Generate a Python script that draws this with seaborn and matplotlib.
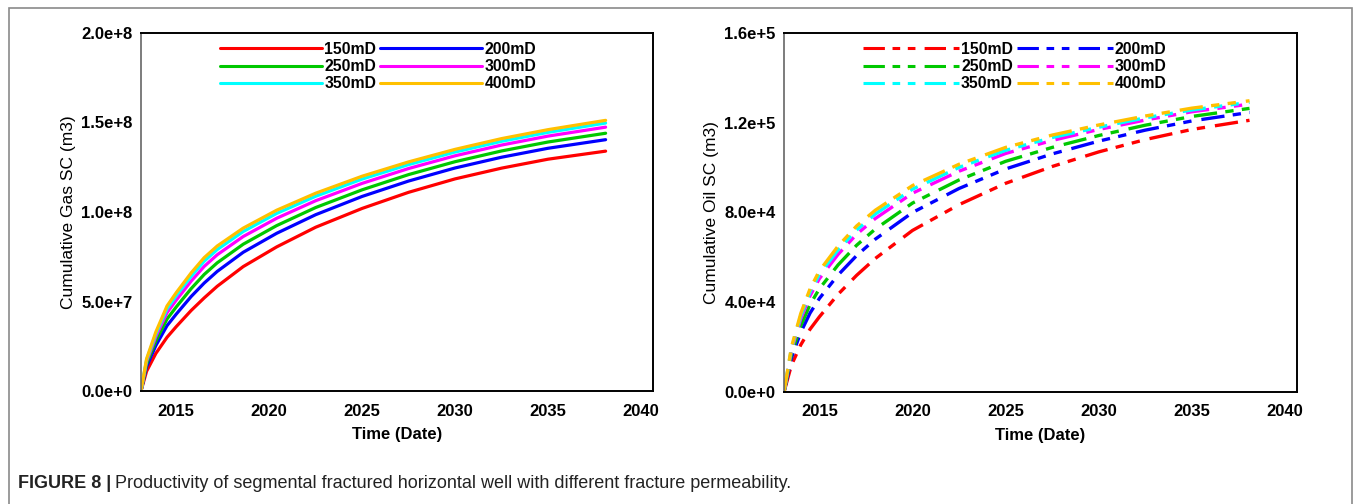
import matplotlib
matplotlib.use("Agg")
import pandas as pd
import matplotlib.pyplot as plt
from matplotlib.patches import Rectangle
from matplotlib.ticker import FuncFormatter, MultipleLocator
import seaborn as sns

# Fracture permeability cases
perm_labels = ["150mD", "200mD", "250mD", "300mD", "350mD", "400mD"]
perm_colors = ["#ff0000", "#0000ff", "#00c800", "#ff00ff", "#00ffff", "#ffc000"]

# Cumulative gas (units of 1e7 m3)
gas_years = [2013.1, 2013.4, 2013.9, 2014.5, 2015.0, 2015.8, 2016.5, 2017.2, 2018.6,
             2020.4, 2022.5, 2025.0, 2027.5, 2030.0, 2032.5, 2035.0, 2038.1]
gas_150 = [0, 1.10, 2.10, 3.00, 3.60, 4.50, 5.20, 5.85, 6.95, 8.05, 9.15, 10.20, 11.10, 11.85, 12.45, 12.95, 13.40]
gas_200 = [0, 1.36, 2.54, 3.65, 4.30, 5.28, 6.03, 6.68, 7.75, 8.81, 9.85, 10.87, 11.73, 12.46, 13.06, 13.56, 14.04]
gas_250 = [0, 1.51, 2.80, 4.02, 4.70, 5.72, 6.51, 7.16, 8.20, 9.24, 10.25, 11.24, 12.09, 12.81, 13.41, 13.91, 14.40]
gas_300 = [0, 1.65, 3.04, 4.37, 5.08, 6.14, 6.96, 7.61, 8.63, 9.65, 10.63, 11.60, 12.43, 13.14, 13.74, 14.24, 14.74]
gas_350 = [0, 1.74, 3.19, 4.59, 5.33, 6.41, 7.25, 7.90, 8.91, 9.92, 10.88, 11.84, 12.65, 13.35, 13.95, 14.45, 14.97]
gas_400 = [0, 1.80, 3.30, 4.75, 5.50, 6.60, 7.45, 8.10, 9.10, 10.10, 11.05, 12.00, 12.80, 13.50, 14.10, 14.60, 15.12]

# Cumulative oil (units of 1e4 m3)
oil_years = [2013.1, 2013.5, 2014.0, 2014.5, 2015.0, 2016.0, 2017.0, 2018.0,
             2020.0, 2022.5, 2025.0, 2027.5, 2030.0, 2032.5, 2035.0, 2038.1]
oil_150 = [0, 1.20, 2.10, 2.80, 3.35, 4.35, 5.20, 5.95, 7.20, 8.35, 9.30, 10.05, 10.70, 11.25, 11.70, 12.11]
oil_200 = [0, 1.52, 2.66, 3.52, 4.17, 5.21, 6.08, 6.81, 8.00, 9.07, 9.94, 10.61, 11.18, 11.67, 12.08, 12.46]
oil_250 = [0, 1.69, 2.95, 3.90, 4.60, 5.66, 6.54, 7.26, 8.42, 9.45, 10.28, 10.90, 11.43, 11.89, 12.28, 12.64]
oil_300 = [0, 1.86, 3.26, 4.29, 5.05, 6.13, 7.03, 7.73, 8.86, 9.84, 10.63, 11.21, 11.70, 12.12, 12.49, 12.83]
oil_350 = [0, 1.94, 3.39, 4.46, 5.24, 6.33, 7.22, 7.93, 9.04, 10.01, 10.77, 11.34, 11.80, 12.22, 12.57, 12.91]
oil_400 = [0, 2.00, 3.50, 4.60, 5.40, 6.50, 7.40, 8.10, 9.20, 10.15, 10.90, 11.45, 11.90, 12.30, 12.65, 12.98]

x_ticks = [2015, 2020, 2025, 2030, 2035, 2040]
caption_bold = "FIGURE 8 |"
caption_text = "Productivity of segmental fractured horizontal well with different fracture permeability."


def to_long(years, series, unit):
    rows = []
    for label, vals in zip(perm_labels, series):
        for t, v in zip(years, vals):
            rows.append({"Time": t, "Value": v * unit, "Perm": label})
    return pd.DataFrame(rows)


def sci_fmt(v, pos):
    s = f"{v:.1e}"
    return s.replace("e+0", "e+").replace("e-0", "e-")


def style_axes(ax, ymax, ystep, ylabel):
    ax.set_xlim(2013.1, 2040.65)
    ax.set_ylim(0, ymax)
    ax.set_xticks(x_ticks)
    ax.yaxis.set_major_locator(MultipleLocator(ystep))
    ax.yaxis.set_major_formatter(FuncFormatter(sci_fmt))
    ax.set_xlabel("Time (Date)", fontsize=12, fontweight="bold", labelpad=6)
    ax.set_ylabel(ylabel, fontsize=12.5, labelpad=4)
    for side in ["top", "right", "bottom"]:
        ax.spines[side].set_visible(True)
        ax.spines[side].set_color("black")
        ax.spines[side].set_linewidth(1.4)
    ax.spines["left"].set_color("#666666")
    ax.spines["left"].set_linewidth(1.2)
    ax.tick_params(axis="both", direction="out", length=4, width=1, color="#555555",
                   labelsize=12)
    ax.tick_params(axis="x", pad=5)
    ax.tick_params(axis="y", pad=2)
    for lab in ax.get_xticklabels() + ax.get_yticklabels():
        lab.set_fontweight("bold")


def fix_legend(ax, x0, hlen):
    leg = ax.get_legend()
    handles = list(leg.legend_handles)
    labels = [t.get_text() for t in leg.get_texts()]
    order = [0, 2, 4, 1, 3, 5]  # row-wise reading: 150/200, 250/300, 350/400
    handles = [handles[i] for i in order]
    labels = [labels[i] for i in order]
    for h in handles:
        h.set_linewidth(2.2)
    leg.remove()
    ax.legend(handles, labels, ncol=2, loc="upper left", bbox_to_anchor=(x0, 0.975),
              frameon=False, handlelength=hlen, handletextpad=0.15, columnspacing=0.25,
              labelspacing=0.14, borderpad=0, borderaxespad=0,
              prop={"weight": "bold", "size": 11.3})


sns.set_theme(style="white")
plt.rcParams["font.family"] = ["Liberation Sans", "DejaVu Sans"]
plt.rcParams["text.color"] = "black"
plt.rcParams["axes.labelcolor"] = "black"
plt.rcParams["xtick.color"] = "black"
plt.rcParams["ytick.color"] = "black"

gas_df = to_long(gas_years, [gas_150, gas_200, gas_250, gas_300, gas_350, gas_400], 1e7)
oil_df = to_long(oil_years, [oil_150, oil_200, oil_250, oil_300, oil_350, oil_400], 1e4)

fig = plt.figure(figsize=(13.55, 5.04), dpi=100)
ax1 = fig.add_axes([141 / 1355, 1 - 391 / 504, 512 / 1355, 358 / 504])
ax2 = fig.add_axes([784 / 1355, 1 - 392 / 504, 513 / 1355, 359 / 504])

sns.lineplot(data=gas_df, x="Time", y="Value", hue="Perm", hue_order=perm_labels,
             palette=perm_colors, linewidth=2.3, estimator=None, sort=False, ax=ax1)
style_axes(ax1, 2.0e8, 5.0e7, "Cumulative Gas SC (m3)")
fix_legend(ax1, 0.154, 6.5)

dash = (7, 2.5, 2.5, 2.5, 2.5, 3)
sns.lineplot(data=oil_df, x="Time", y="Value", hue="Perm", hue_order=perm_labels,
             palette=perm_colors, style="Perm", style_order=perm_labels,
             dashes={p: dash for p in perm_labels}, linewidth=2.4,
             estimator=None, sort=False, ax=ax2)
style_axes(ax2, 1.6e5, 4.0e4, "Cumulative Oil SC (m3)")
fix_legend(ax2, 0.154, 6.1)

# outer frame and caption
fig.add_artist(Rectangle((9 / 1355, -0.02), 1343 / 1355, 1 - 8 / 504 + 0.02,
                         transform=fig.transFigure, fill=False,
                         edgecolor="#8a8a8a", linewidth=1.2))
cap_y = 1 - 484 / 504
t1 = fig.text(18 / 1355, cap_y, caption_bold, fontsize=13, fontweight="bold",
              color="#222222", va="center")
fig.canvas.draw()
bb = t1.get_window_extent(renderer=fig.canvas.get_renderer())
fig.text(bb.x1 / 1355 + 4 / 1355, cap_y, caption_text, fontsize=13,
         color="#222222", va="center")

fig.savefig("out.png", dpi=100, facecolor="white")
